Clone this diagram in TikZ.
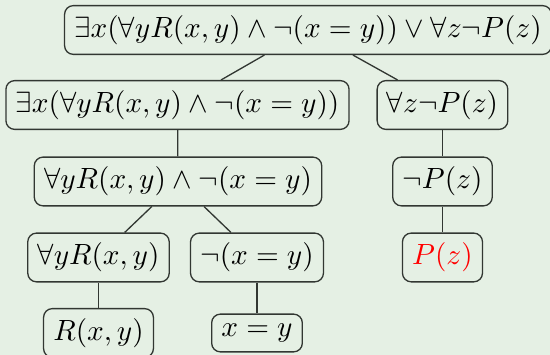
\documentclass[tikz,border=0pt]{standalone}
\usepackage{xcolor}
\definecolor{bgc}{RGB}{229,240,228}
\definecolor{lnc}{RGB}{50,55,50}
\begin{document}
\begin{tikzpicture}[x=0.3417pt,y=-0.3417pt,
  fbox/.style={draw=lnc,rounded corners=3pt,line width=0.45pt,inner sep=0.3333em},
  conn/.style={draw=lnc,line width=0.45pt}]
\fill[bgc] (0,0) rectangle (550,355);
\useasboundingbox (0,0) rectangle (550,355);
\node[fbox] (top) at (308,30) {$\exists x(\forall y R(x,y)\wedge\neg(x=y))\vee\forall z\neg P(z)$};
\node[fbox] (l2a) at (177.5,105) {$\exists x(\forall y R(x,y)\wedge\neg(x=y))$};
\node[fbox] (l2b) at (442.5,105) {$\forall z\neg P(z)$};
\node[fbox] (l3a) at (178,181.5) {$\forall y R(x,y)\wedge\neg(x=y)$};
\node[fbox] (l3b) at (442.5,181.5) {$\neg P(z)$};
\node[fbox] (l4a) at (98.5,257.5) {$\forall y R(x,y)$};
\node[fbox] (l4b) at (257,257.5) {$\neg(x=y)$};
\node[fbox] (l4c) at (442.5,257.5) {\color{red}$P(z)$};
\node[fbox] (l5a) at (98.5,333) {$R(x,y)$};
\node[fbox] (l5b) at (257,333) {$x=y$};
\draw[conn] (top) -- (l2a);
\draw[conn] (top) -- (l2b);
\draw[conn] (l2a) -- (l3a);
\draw[conn] (l2b) -- (l3b);
\draw[conn] (l3a) -- (l4a);
\draw[conn] (l3a) -- (l4b);
\draw[conn] (l3b) -- (l4c);
\draw[conn] (l4a) -- (l5a);
\draw[conn] (l4b) -- (l5b);
\end{tikzpicture}
\end{document}
